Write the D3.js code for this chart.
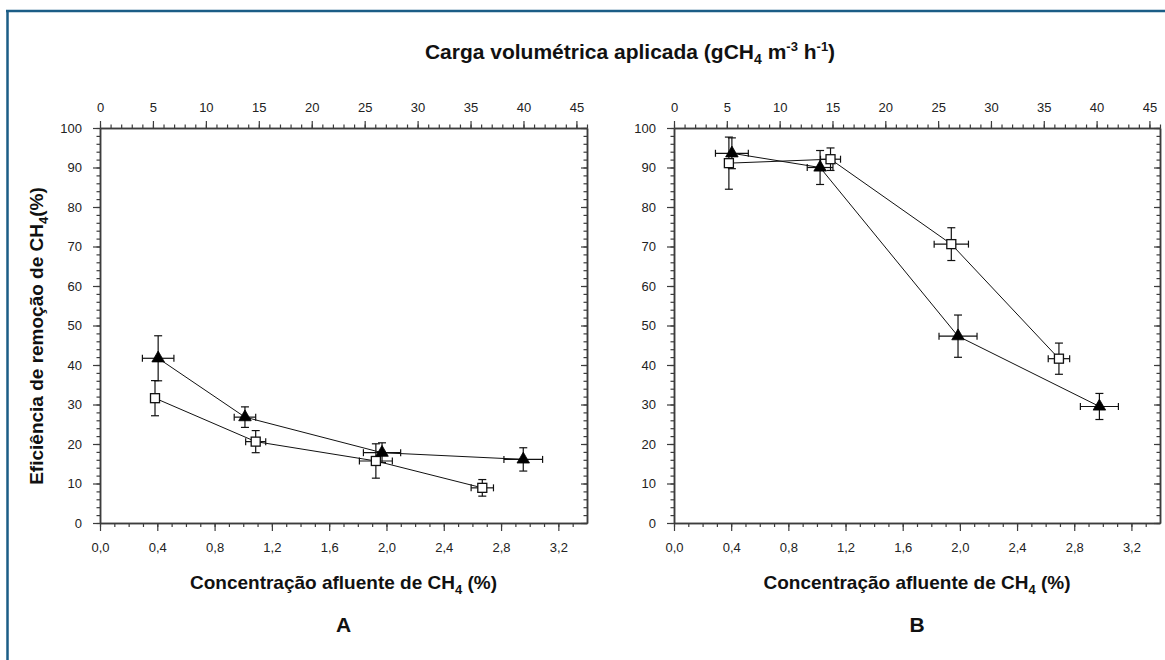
<!DOCTYPE html>
<html>
<head>
<meta charset="utf-8">
<script src="https://cdn.jsdelivr.net/npm/d3@7"></script>
<style>
  html, body { margin: 0; padding: 0; background: #ffffff; }
  svg { display: block; }
  text { font-family: "Liberation Sans", Arial, Helvetica, sans-serif; }
</style>
</head>
<body>
<svg id="chart" width="1165" height="660"></svg>
<script>
// ---------- DATA ----------
const bottomTicks = [0, 0.4, 0.8, 1.2, 1.6, 2.0, 2.4, 2.8, 3.2];
const topTicks = [0, 5, 10, 15, 20, 25, 30, 35, 40, 45];
const yTicks = [0, 10, 20, 30, 40, 50, 60, 70, 80, 90, 100];

const titleTop = "Carga volumétrica aplicada";
const xTitle = "Concentração afluente de CH";
const yTitle = "Eficiência de remoção de CH";
const panelLabels = ["A", "B"];

// Panel A - filled triangles
const A_tri_x    = [0.406, 1.012, 1.969, 2.955];
const A_tri_y    = [41.7, 26.8, 17.8, 16.1];
const A_tri_xerr = [0.11, 0.075, 0.13, 0.135];
const A_tri_yerr = [5.7, 2.6, 2.5, 2.95];
// Panel A - open squares
const A_sq_x    = [0.384, 1.087, 1.926, 2.669];
const A_sq_y    = [31.6, 20.6, 15.7, 8.9];
const A_sq_xerr = [0.02, 0.07, 0.115, 0.078];
const A_sq_yerr = [4.45, 2.8, 4.35, 2.1];
// Panel B - filled triangles
const B_tri_x    = [0.405, 1.022, 1.987, 2.976];
const B_tri_y    = [93.6, 90.0, 47.3, 29.5];
const B_tri_xerr = [0.115, 0.09, 0.133, 0.133];
const B_tri_yerr = [3.9, 4.3, 5.35, 3.3];
// Panel B - open squares
const B_sq_x    = [0.384, 1.095, 1.94, 2.693];
const B_sq_y    = [91.1, 92.1, 70.6, 41.6];
const B_sq_xerr = [0.03, 0.07, 0.12, 0.075];
const B_sq_yerr = [6.6, 2.85, 4.15, 3.95];

// ---------- LAYOUT ----------
const svg = d3.select("#chart");
const FONT = "'Liberation Sans', Arial, Helvetica, sans-serif";
const AX = "#3c3c3c";

// frame border
svg.append("line").attr("x1", 6).attr("x2", 1165).attr("y1", 11).attr("y2", 11)
  .attr("stroke", "#1b5d86").attr("stroke-width", 2.5);
svg.append("line").attr("x1", 7.5).attr("x2", 7.5).attr("y1", 10).attr("y2", 660)
  .attr("stroke", "#1b5d86").attr("stroke-width", 2.5);

function zip(xs, ys, xe, ye) {
  return xs.map((x, i) => ({x: x, y: ys[i], xe: xe[i], ye: ye[i]}));
}

const panels = [
  { label: panelLabels[0], left: 100, right: 587, top: 128, bottom: 523,
    tri: zip(A_tri_x, A_tri_y, A_tri_xerr, A_tri_yerr),
    sq: zip(A_sq_x, A_sq_y, A_sq_xerr, A_sq_yerr) },
  { label: panelLabels[1], left: 674, right: 1160, top: 128, bottom: 523,
    tri: zip(B_tri_x, B_tri_y, B_tri_xerr, B_tri_yerr),
    sq: zip(B_sq_x, B_sq_y, B_sq_xerr, B_sq_yerr) }
];

function range(a, b, s) { const r = []; for (let v = a; v <= b + 1e-9; v += s) r.push(+v.toFixed(4)); return r; }

function styleAxis(g) {
  g.selectAll("path.domain").attr("stroke", AX).attr("stroke-width", 1.5);
  g.selectAll(".tick line").attr("stroke", AX).attr("stroke-width", 1.2);
  g.selectAll(".tick text").attr("fill", "#222").attr("font-size", 13).attr("font-family", FONT);
}

panels.forEach(p => {
  const x = d3.scaleLinear().domain([0, 3.4]).range([p.left, p.right]);
  const xTop = d3.scaleLinear().domain([0, 46]).range([p.left, p.right]);
  const y = d3.scaleLinear().domain([0, 100]).range([p.bottom, p.top]);

  const g = svg.append("g");

  // bottom axis: minor + major
  g.append("g").attr("transform", `translate(0,${p.bottom})`)
    .call(d3.axisBottom(x).tickValues(range(0, 3.3, 0.1)).tickSize(4).tickSizeOuter(0).tickFormat(""))
    .call(styleAxis);
  g.append("g").attr("transform", `translate(0,${p.bottom})`)
    .call(d3.axisBottom(x).tickValues(bottomTicks).tickSize(8).tickSizeOuter(0).tickPadding(12)
      .tickFormat(d => d3.format(".1f")(d).replace(".", ",")))
    .call(styleAxis);

  // top axis
  g.append("g").attr("transform", `translate(0,${p.top})`)
    .call(d3.axisTop(xTop).tickValues(range(0, 46, 1)).tickSize(3.5).tickSizeOuter(0).tickFormat(""))
    .call(styleAxis);
  g.append("g").attr("transform", `translate(0,${p.top})`)
    .call(d3.axisTop(xTop).tickValues(topTicks).tickSize(7).tickSizeOuter(0).tickPadding(9))
    .call(styleAxis);

  // left axis
  g.append("g").attr("transform", `translate(${p.left},0)`)
    .call(d3.axisLeft(y).tickValues(range(0, 100, 2)).tickSize(3.5).tickSizeOuter(0).tickFormat(""))
    .call(styleAxis);
  g.append("g").attr("transform", `translate(${p.left},0)`)
    .call(d3.axisLeft(y).tickValues(yTicks).tickSize(7).tickSizeOuter(0).tickPadding(11))
    .call(styleAxis);

  // right axis (inward ticks)
  g.append("g").attr("transform", `translate(${p.right},0)`)
    .call(d3.axisRight(y).tickValues(range(0, 100, 2)).tickSize(-3.5).tickSizeOuter(0).tickFormat(""))
    .call(styleAxis);
  g.append("g").attr("transform", `translate(${p.right},0)`)
    .call(d3.axisRight(y).tickValues(yTicks).tickSize(-6).tickSizeOuter(0).tickFormat(""))
    .call(styleAxis);

  const line = d3.line().x(d => x(d.x)).y(d => y(d.y));

  [p.sq, p.tri].forEach(series => {
    g.append("path").datum(series).attr("d", line)
      .attr("fill", "none").attr("stroke", "#111").attr("stroke-width", 1);
  });

  // error bars
  [p.sq, p.tri].forEach(series => {
    const eb = g.append("g").attr("stroke", "#111").attr("stroke-width", 1.2).attr("fill", "none");
    series.forEach(d => {
      const cx = x(d.x), cy = y(d.y);
      const y1 = y(d.y + d.ye), y2 = y(d.y - d.ye);
      const x1 = x(d.x - d.xe), x2 = x(d.x + d.xe);
      eb.append("line").attr("x1", cx).attr("x2", cx).attr("y1", y1).attr("y2", y2);
      eb.append("line").attr("x1", cx - 4).attr("x2", cx + 4).attr("y1", y1).attr("y2", y1);
      eb.append("line").attr("x1", cx - 4).attr("x2", cx + 4).attr("y1", y2).attr("y2", y2);
      eb.append("line").attr("x1", x1).attr("x2", x2).attr("y1", cy).attr("y2", cy);
      eb.append("line").attr("x1", x1).attr("x2", x1).attr("y1", cy - 3.5).attr("y2", cy + 3.5);
      eb.append("line").attr("x1", x2).attr("x2", x2).attr("y1", cy - 3.5).attr("y2", cy + 3.5);
    });
  });

  // open squares
  g.append("g").selectAll("rect").data(p.sq).join("rect")
    .attr("x", d => x(d.x) - 4.5).attr("y", d => y(d.y) - 4.5)
    .attr("width", 9).attr("height", 9)
    .attr("fill", "#fff").attr("stroke", "#111").attr("stroke-width", 1.3);

  // filled triangles
  g.append("g").selectAll("path").data(p.tri).join("path")
    .attr("transform", d => `translate(${x(d.x)},${y(d.y)})`)
    .attr("d", d3.symbol(d3.symbolTriangle, 68)())
    .attr("fill", "#000").attr("stroke", "#000").attr("stroke-width", 0.8);

  // x-axis title
  const cx = (p.left + p.right) / 2;
  const t = g.append("text").attr("x", cx).attr("y", 589).attr("text-anchor", "middle")
    .attr("font-size", 19).attr("font-weight", "bold").attr("fill", "#111").attr("font-family", FONT);
  t.append("tspan").text(xTitle);
  t.append("tspan").attr("font-size", 13).attr("dy", 5).text("4");
  t.append("tspan").attr("dy", -5).text(" (%)");

  // panel label
  g.append("text").attr("x", cx).attr("y", 632).attr("text-anchor", "middle")
    .attr("font-size", 21).attr("font-weight", "bold").attr("fill", "#111").attr("font-family", FONT)
    .text(p.label);
});

// top title
const tt = svg.append("text").attr("x", 630).attr("y", 59).attr("text-anchor", "middle")
  .attr("font-size", 21).attr("font-weight", "bold").attr("fill", "#111").attr("font-family", FONT);
tt.append("tspan").text(titleTop + " (gCH");
tt.append("tspan").attr("font-size", 14).attr("dy", 5).text("4");
tt.append("tspan").attr("dy", -5).text(" m");
tt.append("tspan").attr("font-size", 13).attr("dy", -8).text("-3");
tt.append("tspan").attr("dy", 8).text(" h");
tt.append("tspan").attr("font-size", 13).attr("dy", -8).text("-1");
tt.append("tspan").attr("dy", 8).text(")");

// y title
const yt = svg.append("text")
  .attr("transform", "translate(43,336) rotate(-90)").attr("text-anchor", "middle")
  .attr("font-size", 19).attr("font-weight", "bold").attr("fill", "#111").attr("font-family", FONT);
yt.append("tspan").text(yTitle);
yt.append("tspan").attr("font-size", 13).attr("dy", 5).text("4");
yt.append("tspan").attr("dy", -5).text("(%)");
</script>
</body>
</html>
